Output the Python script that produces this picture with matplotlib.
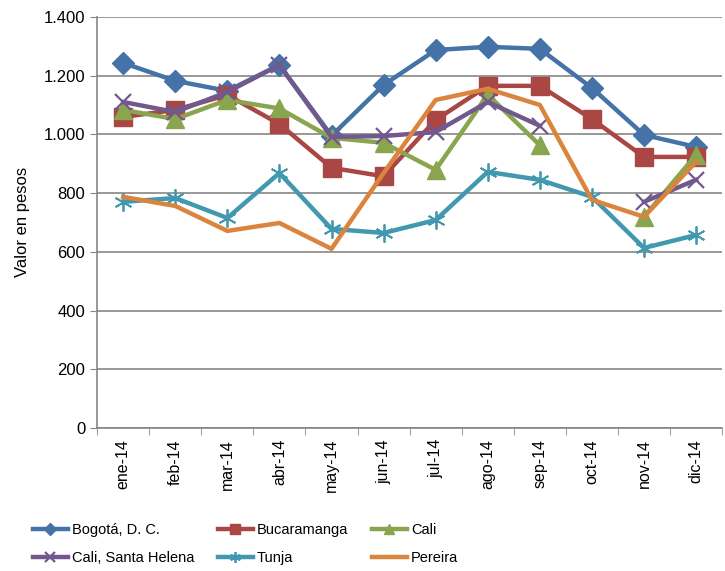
import matplotlib.pyplot as plt
import numpy as np
from matplotlib.ticker import FuncFormatter

plt.rcParams['font.family'] = ['Liberation Sans', 'DejaVu Sans']

meses = ['ene-14', 'feb-14', 'mar-14', 'abr-14', 'may-14', 'jun-14',
         'jul-14', 'ago-14', 'sep-14', 'oct-14', 'nov-14', 'dic-14']

bogota = [1243, 1182, 1148, 1236, 995, 1168, 1287, 1298, 1291, 1158, 998, 957]
bucaramanga = [1059, 1083, 1134, 1035, 886, 857, 1049, 1165, 1165, 1052, 923, 923]
cali = [1083, 1052, 1117, 1088, 988, 971, 879, 1135, 963, None, 719, 930]
cali_sh = [1110, 1076, 1144, 1236, 991, 994, 1008, 1110, 1029, None, 770, 845]
tunja = [770, 783, 715, 868, 678, 664, 708, 872, 845, 787, 613, 657]
pereira = [787, 756, 671, 698, 610, 868, 1117, 1155, 1100, 777, 719, 906]

def arr(v):
    return np.array([np.nan if x is None else x for x in v], dtype=float)

fig = plt.figure(figsize=(7.25, 5.71), dpi=100)
ax = fig.add_axes([0.134, 0.2505, 0.862, 0.72])

x = np.arange(len(meses))
lw = 3.2
h1, = ax.plot(x, arr(bogota), color='#4573A7', lw=lw, marker='D', ms=11, label='Bogotá, D. C.')
h2, = ax.plot(x, arr(bucaramanga), color='#AA4643', lw=lw, marker='s', ms=13, label='Bucaramanga')
h3, = ax.plot(x, arr(cali), color='#89A54E', lw=lw, marker='^', ms=13, label='Cali')
h4, = ax.plot(x, arr(cali_sh), color='#71588F', lw=lw, marker='x', ms=12, mew=1.6, label='Cali, Santa Helena')
h5, = ax.plot(x, arr(tunja), color='#4198AF', lw=lw, marker=(6, 2, 0), ms=13, mew=1.3, label='Tunja')
h6, = ax.plot(x, arr(pereira), color='#DB843D', lw=lw, label='Pereira')

ax.set_xlim(-0.5, len(meses) - 0.5)
ax.set_ylim(0, 1400)
ax.set_yticks(range(0, 1401, 200))
ax.yaxis.set_major_formatter(FuncFormatter(lambda v, p: f'{int(v):,}'.replace(',', '.')))
ax.set_xticks(x)
ax.set_xticklabels(meses, rotation=90, fontsize=11.5)
ax.set_xticks(np.arange(-0.5, len(meses), 1), minor=True)
ax.tick_params(axis='x', which='major', length=0, pad=8)
ax.tick_params(axis='x', which='minor', length=5, color='#868686')
ax.tick_params(axis='y', length=5, color='#868686', labelsize=12)
ax.grid(axis='y', color='#868686', lw=1.2)
ax.set_axisbelow(True)
for s in ['top', 'right']:
    ax.spines[s].set_visible(False)
for s in ['left', 'bottom']:
    ax.spines[s].set_color('#868686')
    ax.spines[s].set_linewidth(1.2)
ax.set_ylabel('Valor en pesos', fontsize=12, labelpad=10)

handles = [h1, h4, h2, h5, h3, h6]
fig.legend(handles, [h.get_label() for h in handles],
           loc='lower left', bbox_to_anchor=(0.045, 0.01), ncol=3, frameon=False,
           fontsize=10.5, handlelength=2.4, columnspacing=1.6, labelspacing=1.0,
           handletextpad=0.3, markerscale=0.6, borderpad=0, borderaxespad=0)

fig.savefig('out.png', dpi=100)
